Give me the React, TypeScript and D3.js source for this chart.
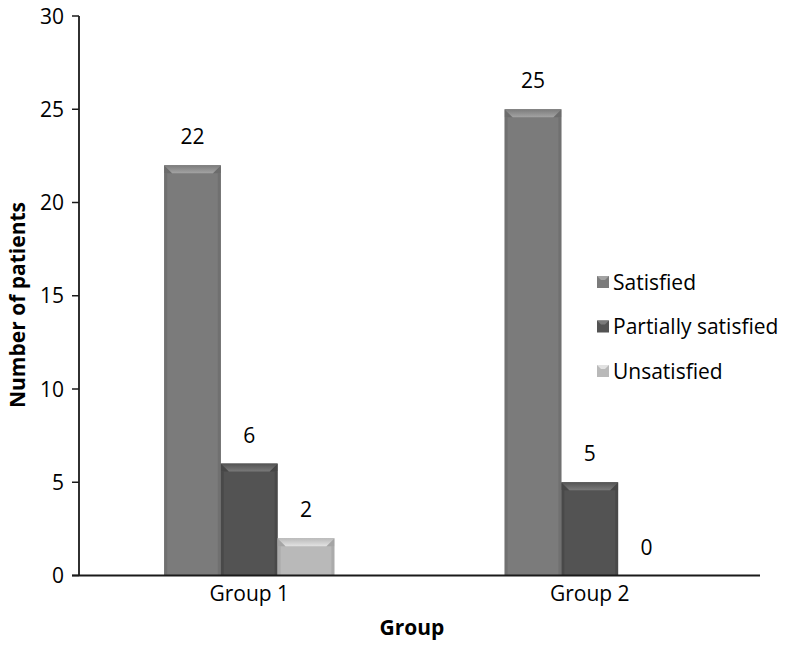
import React from "react";
import * as d3 from "d3";

const groups = ["Group 1", "Group 2"];
const seriesNames = ["Satisfied", "Partially satisfied", "Unsatisfied"];
const satisfied = [22, 25];
const partially = [6, 5];
const unsatisfied = [2, 0];
const yTicks = [0, 5, 10, 15, 20, 25, 30];

const seriesValues = [satisfied, partially, unsatisfied];
const colors = ["#7b7b7b", "#535353", "#b9b9b9"];
const topColors = ["#a3a3a3", "#7a7a7a", "#e2e2e2"];
const sideColors = ["#6c6c6c", "#464646", "#a5a5a5"];

const W = 786;
const H = 648;
const left = 79;
const right = 760;
const top = 16;
const bottom = 575.5;
const font = "'Open Sans', Carlito, Calibri, sans-serif";
const fs = 21;

export default function App() {
  const y = d3.scaleLinear().domain([0, 30]).range([bottom, top]);
  const x0 = d3.scaleBand<string>().domain(groups).range([left, right]).paddingInner(0.5).paddingOuter(0.25);
  const x1 = d3.scaleBand<string>().domain(seriesNames).range([0, x0.bandwidth()]);

  const bars: React.ReactNode[] = [];
  const labels: React.ReactNode[] = [];
  groups.forEach((g, gi) => {
    seriesNames.forEach((s, si) => {
      const v = seriesValues[si][gi];
      const bx = (x0(g) as number) + (x1(s) as number);
      const bw = x1.bandwidth();
      const by = y(v);
      const bh = bottom - by;
      if (bh > 0) {
        const b = Math.min(8, bh / 2);
        const e = 3;
        bars.push(
          <g key={`b-${gi}-${si}`}>
            <rect x={bx} y={by} width={bw} height={bh} fill={colors[si]} />
            <rect x={bx} y={by + b} width={e} height={bh - b} fill={sideColors[si]} opacity={0.7} />
            <rect x={bx + bw - e} y={by + b} width={e} height={bh - b} fill={sideColors[si]} opacity={0.7} />
            <polygon points={`${bx},${by} ${bx + b},${by + b} ${bx},${by + b}`} fill={sideColors[si]} />
            <polygon points={`${bx + bw},${by} ${bx + bw - b},${by + b} ${bx + bw},${by + b}`} fill={sideColors[si]} />
            <polygon
              points={`${bx},${by} ${bx + bw},${by} ${bx + bw - b},${by + b} ${bx + b},${by + b}`}
              fill={`url(#top${si})`}
            />
          </g>
        );
      }
      labels.push(
        <text
          key={`l-${gi}-${si}`}
          x={bx + bw / 2}
          y={y(v) - 21}
          textAnchor="middle"
          fontSize={fs}
          fontFamily={font}
          fill="#000"
        >
          {v}
        </text>
      );
    });
  });

  return (
    <svg width={W} height={H} style={{ position: "absolute", left: 0, top: 0, background: "#fff" }}>
      <defs>
        {colors.map((c, i) => (
          <linearGradient key={i} id={`top${i}`} x1="0" y1="0" x2="0" y2="1">
            <stop offset="0" stopColor={colors[i]} />
            <stop offset="1" stopColor={topColors[i]} />
          </linearGradient>
        ))}
      </defs>
      {bars}
      {labels}
      <line x1={left} x2={left} y1={top} y2={bottom} stroke="#1a1a1a" strokeWidth={1.8} />
      {yTicks.map((t) => (
        <g key={t}>
          <line x1={left - 7} x2={left} y1={y(t)} y2={y(t)} stroke="#1a1a1a" strokeWidth={1.5} />
          <text x={64} y={y(t) + 7.5} textAnchor="end" fontSize={fs} fontFamily={font} fill="#000">
            {t}
          </text>
        </g>
      ))}
      <line x1={left - 7} x2={right} y1={bottom} y2={bottom} stroke="#1a1a1a" strokeWidth={1.8} />
      {groups.map((g) => (
        <text
          key={g}
          x={(x0(g) as number) + x0.bandwidth() / 2}
          y={601}
          textAnchor="middle"
          fontSize={fs}
          fontFamily={font}
          fill="#000"
        >
          {g}
        </text>
      ))}
      <text x={412} y={635} textAnchor="middle" fontSize={fs} fontWeight="bold" fontFamily={font} fill="#000">
        Group
      </text>
      <text
        transform={`translate(25,305) rotate(-90)`}
        textAnchor="middle"
        fontSize={fs}
        fontWeight="bold"
        fontFamily={font}
        fill="#000"
      >
        Number of patients
      </text>
      {seriesNames.map((s, i) => {
        const ly = 282 + i * 44.5;
        return (
          <g key={s}>
            <rect x={597} y={ly - 6} width={12} height={12} fill={colors[i]} />
            <polygon points={`${597},${ly - 6} ${609},${ly - 6} ${605},${ly - 2} ${601},${ly - 2}`} fill={topColors[i]} />
            <text x={613} y={ly + 7.5} fontSize={fs} fontFamily={font} fill="#000">
              {s}
            </text>
          </g>
        );
      })}
    </svg>
  );
}
